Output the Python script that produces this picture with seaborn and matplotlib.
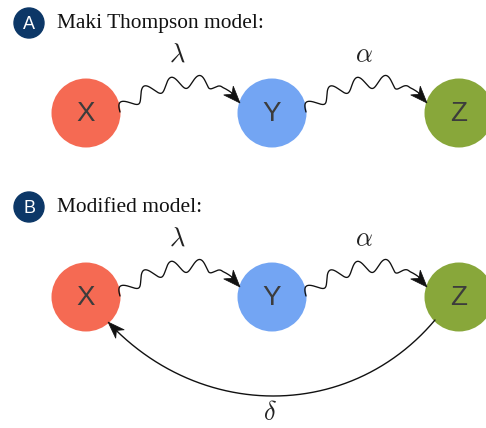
import numpy as np
import pandas as pd
import matplotlib
matplotlib.use("Agg")
import matplotlib.pyplot as plt
import seaborn as sns
from matplotlib.patches import Polygon, Circle

# Model content
nodes = ["X", "Y", "Z"]
node_colors = ["#f56a53", "#73a5f3", "#88a73a"]
panel_letters = ["A", "B"]
panel_titles = ["Maki Thompson model:", "Modified model:"]
rate_labels = [r"$\lambda$", r"$\alpha$"]
return_label = r"$\delta$"

sns.set_theme(style="white")
plt.rcParams["mathtext.fontset"] = "cm"

W, H = 486, 428
fig = plt.figure(figsize=(W / 100, H / 100), dpi=100)
ax = fig.add_axes([0, 0, 1, 1])

# Layout (pixel-like coordinates, y downwards)
node_x = [86, 272, 459]
row_y = [113, 297]
node_r = 34.5

rows = []
for ry in row_y:
    for name, nx in zip(nodes, node_x):
        rows.append({"node": name, "x": nx, "y": ry})
df = pd.DataFrame(rows)

diam_pt = 2 * node_r * 72 / 100
sns.scatterplot(data=df, x="x", y="y", hue="node", hue_order=nodes,
                palette=dict(zip(nodes, node_colors)), s=diam_pt ** 2,
                linewidth=0, legend=False, ax=ax, zorder=2)
for _, r in df.iterrows():
    ax.text(r["x"], r["y"] + 1, r["node"], ha="center", va="center",
            fontsize=20, color="#3c3c3c", family="Liberation Sans",
            zorder=3)


def stealth_head(ax, tip, u, length=17, width=13):
    n = np.array([-u[1], u[0]])
    tip = np.asarray(tip, float)
    back = tip - u * length
    notch = tip - u * length * 0.7
    pts = [tip, back + n * width / 2, notch, back - n * width / 2]
    ax.add_patch(Polygon(pts, closed=True, facecolor="#111111",
                         edgecolor="#111111", lw=0.5, zorder=4))
    return notch


def cubic(p0, c1, c2, p3, n=800):
    t = np.linspace(0, 1, n)[:, None]
    return ((1 - t) ** 3) * p0 + 3 * (1 - t) ** 2 * t * c1 \
        + 3 * (1 - t) * t ** 2 * c2 + t ** 3 * p3


def wavy_arrow(ax, start, end, amp=6.5, period=27, head_len=17):
    p0 = np.array(start, float)
    p3 = np.array(end, float)
    c1 = p0 + np.array([30, -36])
    c2 = p3 + np.array([-16, -32])
    pts = cubic(p0, c1, c2, p3)
    seg = np.diff(pts, axis=0)
    s = np.concatenate([[0], np.cumsum(np.hypot(seg[:, 0], seg[:, 1]))])
    tan = np.gradient(pts, axis=0)
    tan /= np.hypot(tan[:, 0], tan[:, 1])[:, None]
    nrm = np.stack([-tan[:, 1], tan[:, 0]], axis=1)
    total = s[-1]
    stop = total - head_len * 0.7
    keep = s <= stop
    taper = np.clip((stop - 12 - s) / 14, 0, 1)
    off = -amp * np.sin(2 * np.pi * s / period) * taper
    wav = pts + nrm * off[:, None]
    # arrow direction from base curve near the end
    i = np.searchsorted(s, total - head_len)
    u = p3 - pts[i]
    u /= np.hypot(*u)
    notch = stealth_head(ax, p3, u, length=head_len)
    line = wav[keep]
    line = np.vstack([line, notch])
    ax.plot(line[:, 0], line[:, 1], color="#111111", lw=0.95, zorder=3,
            solid_capstyle="round")


for k, ry in enumerate(row_y):
    # X -> Y and Y -> Z
    for j in range(2):
        x0 = node_x[j] + 34
        x1 = node_x[j + 1] - 32
        wavy_arrow(ax, (x0, ry - 1), (x1, ry - 10))
        ax.text((node_x[j] + node_x[j + 1]) / 2 - 2, ry - 58, rate_labels[j],
                ha="center", va="center", fontsize=19, color="#222222")

    # panel badge and title
    by = row_y[k] - 90
    ax.add_patch(Circle((29, by), 15, color="#0c3767", zorder=3))
    ax.text(29, by + 1, panel_letters[k], ha="center", va="center",
            fontsize=13, color="white", family="Liberation Sans", zorder=4)
    ax.text(57, by + 5, panel_titles[k], ha="left", va="baseline",
            fontsize=15.4, color="#111111", family="Liberation Serif")

# return arc Z -> X in the second panel
arc = cubic(np.array([435.0, 320.0]), np.array([350.0, 421.0]),
            np.array([200.0, 421.0]), np.array([108.0, 322.0]))
tip = arc[-1]
seg = np.hypot(*(arc - tip).T)
u = tip - arc[np.argmin(np.abs(seg - 17))]
u /= np.hypot(*u)
notch = stealth_head(ax, tip, u, length=17, width=12)
arc = arc[seg >= 17 * 0.7]
arc = np.vstack([arc, notch])
ax.plot(arc[:, 0], arc[:, 1], color="#111111", lw=1.0, zorder=3)
ax.text(270, 413, return_label, ha="center", va="center", fontsize=19,
        color="#222222")

ax.set_xlim(0, W)
ax.set_ylim(H, 0)
ax.set_aspect("equal")
ax.axis("off")
fig.savefig("out.png", dpi=100)
